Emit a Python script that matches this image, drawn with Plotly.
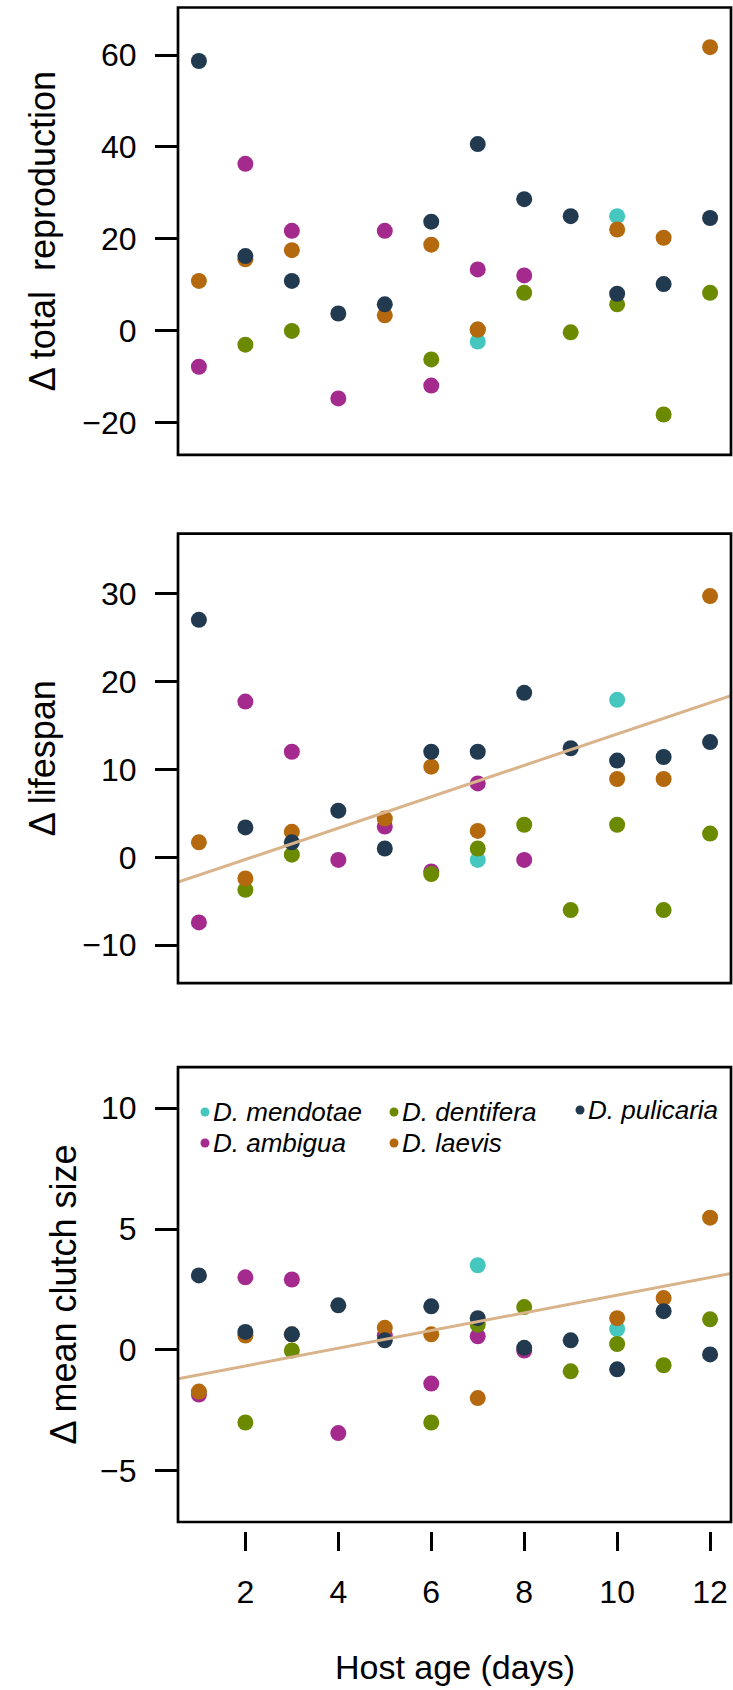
import plotly.graph_objects as go

# ---------------- data ----------------
species = ["D. mendotae", "D. ambigua", "D. dentifera", "D. laevis", "D. pulicaria"]
colors = {"D. mendotae": "#45C7BF", "D. ambigua": "#A42A8E", "D. dentifera": "#6B8A00",
          "D. laevis": "#B5690E", "D. pulicaria": "#223A50"}

ages = {
    "D. mendotae": [7, 10],
    "D. ambigua": [1, 2, 3, 4, 5, 6, 7, 8],
    "D. dentifera": [2, 3, 6, 7, 8, 9, 10, 11, 12],
    "D. laevis": [1, 2, 3, 5, 6, 7, 10, 11, 12],
    "D. pulicaria": [1, 2, 3, 4, 5, 6, 7, 8, 9, 10, 11, 12],
}

total_repro = {
    "D. mendotae": [-2.4, 24.9],
    "D. ambigua": [-7.9, 36.3, 21.7, -14.8, 21.7, -12.0, 13.3, 12.0],
    "D. dentifera": [-3.1, -0.1, -6.3, 0.2, 8.2, -0.4, 5.7, -18.3, 8.2],
    "D. laevis": [10.8, 15.5, 17.5, 3.3, 18.7, 0.2, 22.0, 20.2, 61.7],
    "D. pulicaria": [58.7, 16.2, 10.8, 3.7, 5.7, 23.7, 40.6, 28.6, 24.9, 8.0, 10.1, 24.5],
}

lifespan = {
    "D. mendotae": [-0.3, 17.9],
    "D. ambigua": [-7.4, 17.7, 12.0, -0.3, 3.5, -1.6, 8.4, -0.3],
    "D. dentifera": [-3.7, 0.3, -1.9, 1.0, 3.7, -6.0, 3.7, -6.0, 2.7],
    "D. laevis": [1.7, -2.4, 2.9, 4.4, 10.3, 3.0, 8.9, 8.9, 29.7],
    "D. pulicaria": [27.0, 3.4, 1.7, 5.3, 1.0, 12.0, 12.0, 18.7, 12.4, 11.0, 11.4, 13.1],
}

clutch = {
    "D. mendotae": [3.50, 0.86],
    "D. ambigua": [-1.85, 3.0, 2.91, -3.45, 0.59, -1.40, 0.56, -0.03],
    "D. dentifera": [-3.01, -0.03, -3.01, 1.04, 1.77, -0.89, 0.24, -0.64, 1.26],
    "D. laevis": [-1.73, 0.59, 0.64, 0.91, 0.64, -2.0, 1.31, 2.14, 5.47],
    "D. pulicaria": [3.08, 0.74, 0.64, 1.84, 0.39, 1.80, 1.31, 0.08, 0.39, -0.81, 1.60, -0.19],
}

# regression lines (intercept, slope)
fit_lifespan = (-3.81, 1.783)
fit_clutch = (-1.40, 0.366)
fit_color = "#D9B38A"

ylabels = ["\u0394 total  reproduction", "\u0394 lifespan", "\u0394 mean clutch size"]
x_ticks = [2, 4, 6, 8, 10, 12]
x_title = "Host age (days)"

# ---------------- layout geometry ----------------
W, H = 733, 1690
L, R = 178, 2
xr = [0.55, 12.45]
y_ranges = [[-27.1, 70.35], [-14.3, 36.8], [-7.13, 11.7]]
y_dticks = [20, 10, 5]
# panel tops/bottoms in px
panels_px = [(7.5, 454.9), (533.6, 983.1), (1067.2, 1522.0)]


def py(ypx):
    return 1 - ypx / H


def px(xpx):
    return (xpx - L) / (W - L - R)


FONT = "Liberation Sans, Arial, Helvetica, sans-serif"
fig = go.Figure()

datasets = [total_repro, lifespan, clutch]
for i, ds in enumerate(datasets):
    xa = "x" if i == 0 else f"x{i+1}"
    ya = "y" if i == 0 else f"y{i+1}"
    for sp in species:
        fig.add_trace(go.Scatter(
            x=ages[sp], y=ds[sp], mode="markers", xaxis=xa, yaxis=ya,
            marker=dict(size=16, color=colors[sp], line=dict(width=0)),
            showlegend=False, name=sp))

# regression lines
for i, fit in [(1, fit_lifespan), (2, fit_clutch)]:
    xa = f"x{i+1}"
    ya = f"y{i+1}"
    xs = [xr[0], xr[1]]
    ys = [fit[0] + fit[1] * v for v in xs]
    fig.add_trace(go.Scatter(x=xs, y=ys, mode="lines", xaxis=xa, yaxis=ya,
                             line=dict(color=fit_color, width=3), showlegend=False,
                             hoverinfo="skip"))

layout = dict(
    width=W, height=H, margin=dict(l=L, r=R, t=0, b=0),
    paper_bgcolor="white", plot_bgcolor="white", showlegend=False,
    font=dict(family=FONT, color="black"),
)

for i in range(3):
    sfx = "" if i == 0 else str(i + 1)
    top, bot = panels_px[i]
    layout["yaxis" + sfx] = dict(
        domain=[py(bot), py(top)], range=y_ranges[i], dtick=y_dticks[i], tick0=0,
        anchor="x" + sfx, showgrid=False, zeroline=False, showline=False,
        ticks="outside", ticklen=22, tickwidth=2.7, tickcolor="black",
        tickfont=dict(size=32, family=FONT, color="black"), ticklabelstandoff=12,
    )
    xd = dict(domain=[0, 1], range=xr, showgrid=False, zeroline=False, showline=False)
    if i < 2:
        xd.update(anchor="y" + sfx, showticklabels=False, ticks="")
    else:
        xd.update(anchor="free", position=py(1531), tickvals=x_ticks,
                  ticks="outside", ticklen=19, tickwidth=2.7, tickcolor="black",
                  tickfont=dict(size=32, family=FONT, color="black"), ticklabelstandoff=14)
    layout["xaxis" + sfx] = xd

shapes = []
annotations = []
ycenters = [(7.5 + 454.9) / 2, (533.6 + 983.1) / 2, (1067.2 + 1522.0) / 2]
ytitle_x = [42, 42, 64]
for i in range(3):
    sfx = "" if i == 0 else str(i + 1)
    shapes.append(dict(type="rect", xref=f"x{sfx} domain", yref=f"y{sfx} domain",
                       x0=0, x1=1, y0=0, y1=1, line=dict(color="black", width=2.7),
                       fillcolor="rgba(0,0,0,0)", layer="above"))
    annotations.append(dict(text=ylabels[i], xref="paper", yref="paper",
                            x=px(ytitle_x[i]), y=py(ycenters[i]), textangle=-90,
                            showarrow=False, xanchor="center", yanchor="middle",
                            font=dict(size=36, family=FONT, color="black")))

annotations.append(dict(text=x_title, xref="paper", yref="paper", x=px(454.5), y=py(1667),
                        showarrow=False, xanchor="center", yanchor="middle",
                        font=dict(size=34, family=FONT, color="black")))

# legend (dots + italic labels)
legend_items = [("D. mendotae", 205, 1112), ("D. dentifera", 394, 1112), ("D. pulicaria", 580, 1110),
                ("D. ambigua", 205, 1143), ("D. laevis", 394, 1143)]
for sp, lx, ly in legend_items:
    shapes.append(dict(type="circle", xref="paper", yref="paper", xsizemode="pixel",
                       ysizemode="pixel", xanchor=px(lx), yanchor=py(ly),
                       x0=-4.5, x1=4.5, y0=-4.5, y1=4.5, fillcolor=colors[sp],
                       line=dict(width=0)))
    annotations.append(dict(text=f"<i>{sp}</i>", xref="paper", yref="paper",
                            x=px(lx + 6), y=py(ly), showarrow=False, xanchor="left",
                            yanchor="middle", font=dict(size=26, family=FONT, color="black")))

layout["shapes"] = shapes
layout["annotations"] = annotations
fig.update_layout(**layout)
fig.write_html("out.html")
